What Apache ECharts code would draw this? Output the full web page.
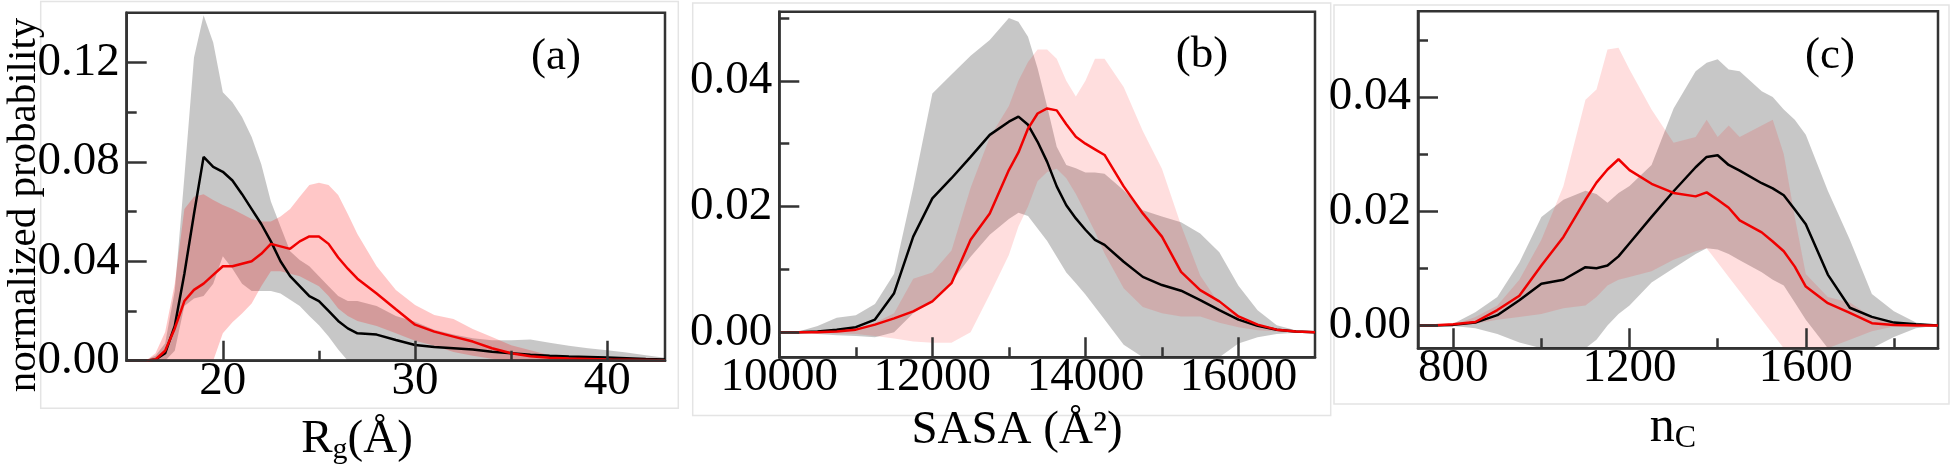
<!DOCTYPE html>
<html><head><meta charset="utf-8">
<script src="https://cdn.jsdelivr.net/npm/echarts@6.0.0/dist/echarts.min.js"></script>
<style>html,body{margin:0;padding:0;background:#fff}#c{width:1950px;height:468px}</style>
</head><body><div id="c"></div><script>
// ---------- Panel (a): Rg ----------
const A_x      = [15,16,16.5,17,17.5,18,18.5,19,19.5,20,20.5,21,21.5,22,22.5,23,23.5,24,24.5,25,25.5,26,26.5,27,28,29,30,31,32,33,34,35,36,37,38,39,40,41,42,43];
const A_black  = [0,0,0.0005,0.003,0.014,0.035,0.059,0.082,0.078,0.076,0.0725,0.067,0.061,0.055,0.048,0.040,0.034,0.030,0.026,0.024,0.020,0.016,0.013,0.011,0.0105,0.0083,0.0063,0.0055,0.005,0.0045,0.0036,0.003,0.0024,0.002,0.0017,0.0015,0.0013,0.001,0.0007,0.0005];
const A_red    = [0,0,0.0005,0.004,0.013,0.024,0.0285,0.031,0.0345,0.038,0.038,0.039,0.040,0.043,0.047,0.046,0.045,0.048,0.050,0.050,0.047,0.0415,0.037,0.033,0.027,0.0207,0.0145,0.0117,0.0097,0.0077,0.005,0.003,0.0018,0.0012,0.0009,0.0007,0.0005,0.0004,0.0003,0.0002];
const A_grayHi = [0,0.0003,0.002,0.007,0.028,0.074,0.122,0.139,0.128,0.108,0.104,0.098,0.090,0.079,0.064,0.054,0.044,0.0405,0.038,0.034,0.030,0.026,0.024,0.024,0.022,0.018,0.0157,0.0125,0.0105,0.009,0.0082,0.0082,0.0085,0.0072,0.006,0.005,0.0042,0.0033,0.0022,0.0012];
const A_grayLo = [0,0,0,0,0.004,0.022,0.025,0.026,0.031,0.042,0.037,0.031,0.028,0.028,0.028,0.027,0.0245,0.022,0.018,0.0143,0.0097,0.0045,0,-0.002,-0.001,-0.0015,-0.003,-0.002,-0.0005,0,-0.001,-0.002,-0.004,-0.003,-0.002,-0.002,-0.0016,-0.0013,-0.0008,-0.0002];
const A_pinkHi = [0,0,0.003,0.0115,0.031,0.061,0.066,0.067,0.0646,0.0626,0.061,0.059,0.057,0.056,0.056,0.058,0.061,0.066,0.0707,0.0716,0.0707,0.0667,0.059,0.051,0.038,0.0284,0.0224,0.0184,0.0168,0.0128,0.0095,0.0062,0.0042,0.0022,0.0012,0.0008,0.0006,0.0004,0.0003,0.0002];
const A_pinkLo = [0,0,-0.002,-0.004,-0.005,-0.011,-0.009,-0.005,0,0.011,0.0155,0.019,0.023,0.030,0.036,0.036,0.035,0.034,0.032,0.030,0.026,0.021,0.018,0.016,0.014,0.011,0.008,0.006,0.0035,0.002,0.0008,0,-0.0005,0,0,0,0,0,0,0];
const A_xTicks = [20,30,40], A_xMinor = [25,35];
const A_yTicks = [0,0.04,0.08,0.12], A_yMinor = [0.02,0.06,0.10];

// ---------- Panel (b): SASA ----------
const B_x      = [10000,10250,10500,10750,11000,11250,11500,11750,12000,12250,12500,12750,13000,13125,13250,13375,13500,13625,13750,13875,14000,14125,14250,14500,14750,15000,15250,15500,15750,16000,16250,16500,16750,17000];
const B_black  = [0,0,0.0001,0.0004,0.0008,0.002,0.0062,0.0152,0.0213,0.0245,0.0279,0.0314,0.0335,0.0343,0.033,0.0303,0.0271,0.0232,0.0202,0.0181,0.0163,0.0147,0.0139,0.0112,0.0088,0.0075,0.0066,0.0051,0.0035,0.002,0.001,0.0004,0.0001,0];
const B_red    = [0,0,0,0.0001,0.0004,0.0012,0.0022,0.0033,0.0049,0.0078,0.0147,0.0189,0.0258,0.0286,0.0324,0.0348,0.0356,0.0353,0.0331,0.0311,0.030,0.0291,0.0282,0.0232,0.0189,0.0152,0.0096,0.0067,0.0049,0.0025,0.0012,0.0004,0.0001,0];
const B_grayHi = [0,0.0001,0.001,0.0023,0.0027,0.0045,0.0093,0.023,0.038,0.041,0.044,0.0465,0.050,0.0494,0.047,0.042,0.0359,0.0295,0.0266,0.0261,0.0254,0.0254,0.0252,0.0226,0.0194,0.0184,0.0175,0.0157,0.0127,0.0074,0.0035,0.0011,0.0003,0];
const B_grayLo = [0,-0.0001,-0.0003,-0.0005,-0.0006,-0.0008,0,0.003,0.005,0.008,0.012,0.0155,0.018,0.019,0.0185,0.0165,0.0145,0.012,0.0095,0.0078,0.006,0.004,0.002,-0.002,-0.004,-0.006,-0.007,-0.006,-0.004,-0.0018,-0.0008,-0.0003,-0.0001,0];
const B_pinkHi = [0,0,0.0001,0.0002,0.0005,0.0015,0.003,0.0085,0.0095,0.013,0.023,0.031,0.036,0.040,0.043,0.045,0.045,0.0435,0.040,0.0375,0.040,0.0435,0.0435,0.039,0.032,0.026,0.017,0.009,0.0045,0.0025,0.0012,0.0006,0.0002,0];
const B_pinkLo = [0,0,-0.0001,-0.0002,-0.0003,-0.0006,-0.001,-0.0015,-0.0017,-0.0017,0,0.006,0.0123,0.0168,0.020,0.024,0.0255,0.026,0.0245,0.022,0.019,0.016,0.0125,0.007,0.004,0.003,0.0025,0.0025,0.0015,0.0008,0.0003,0.0001,0,0];
const B_xTicks = [10000,12000,14000,16000], B_xMinor = [11000,13000,15000];
const B_yTicks = [0,0.02,0.04], B_yMinor = [0.01,0.03,0.05];

// ---------- Panel (c): nC ----------
const C_x      = [720,750,800,850,900,950,1000,1050,1100,1125,1150,1175,1200,1250,1300,1350,1375,1400,1425,1450,1500,1525,1550,1575,1600,1650,1700,1750,1800,1850,1900];
const C_black  = [0,0,0.0001,0.0005,0.0018,0.0044,0.0073,0.008,0.0102,0.010,0.0105,0.0121,0.0144,0.019,0.0235,0.0277,0.0295,0.0298,0.0281,0.0271,0.0249,0.024,0.0228,0.0203,0.0177,0.0089,0.0031,0.0015,0.0005,0.0002,0];
const C_red    = [0,0,0.0002,0.0006,0.0027,0.0052,0.0105,0.0155,0.022,0.025,0.0273,0.0291,0.0272,0.0248,0.0232,0.0226,0.0233,0.022,0.0206,0.0184,0.0163,0.0147,0.013,0.0103,0.0068,0.0039,0.0022,0.0004,0.0001,0,0];
const C_grayHi = [0,0,0.0003,0.0023,0.005,0.011,0.019,0.022,0.0236,0.023,0.0215,0.0232,0.0244,0.0281,0.038,0.0445,0.046,0.0466,0.0448,0.0445,0.041,0.040,0.0378,0.036,0.0334,0.0236,0.015,0.0055,0.0025,0.0005,0];
const C_grayLo = [0,0,-0.0001,-0.0005,-0.0015,-0.003,-0.005,-0.006,-0.005,-0.0025,0,0.002,0.0035,0.0075,0.010,0.0125,0.0135,0.0133,0.0125,0.0114,0.0093,0.008,0.007,0.004,0.001,-0.006,-0.009,-0.006,-0.002,-0.0005,0];
const C_pinkHi = [0,0,0.0001,0.0015,0.0035,0.008,0.015,0.0244,0.0395,0.0413,0.0483,0.0486,0.0448,0.0378,0.032,0.033,0.036,0.033,0.035,0.033,0.035,0.036,0.030,0.019,0.009,0.005,0.004,0.0015,0.0004,0.0001,0];
const C_pinkLo = [0,0,0,0.0003,0.001,0.0015,0.002,0.003,0.0035,0.005,0.007,0.008,0.0085,0.0095,0.0115,0.013,0.0135,0.011,0.0085,0.006,0.001,-0.0015,-0.0045,-0.006,-0.0075,-0.0045,-0.0025,-0.001,-0.0002,0,0];
const C_xTicks = [800,1200,1600], C_xMinor = [1000,1400,1800];
const C_yTicks = [0,0.02,0.04], C_yMinor = [0.01,0.03,0.05];

// ---------- styling ----------
const FONT = 'Liberation Serif';
const AX = '#333';
const GRAY = 'rgba(0,0,0,0.22)';
const PINK_A = 'rgba(255,0,0,0.22)';
const PINK_BC = 'rgba(255,0,0,0.13)';
const TICK_FS = 47;

const grids = [
  {left:126.7, top:12.7, width:538.3, height:348},
  {left:779.3, top:11.7, width:535.7, height:345.6},
  {left:1418,  top:11.3, width:520,   height:337}
].map(g => Object.assign({show:true, borderColor:AX, borderWidth:2.5, backgroundColor:'transparent', containLabel:false}, g));

function xAxisPair(gi, min, max, ticks, minor) {
  return [
    {type:'value', gridIndex:gi, min, max, position:'bottom', z:10,
     axisLine:{show:true, onZero:false, lineStyle:{color:AX, width:2.5}},
     axisTick:{show:true, inside:true, length:20, customValues:ticks, lineStyle:{color:AX, width:2.5}},
     axisLabel:{show:true, customValues:ticks, color:'#000', fontFamily:FONT, fontSize:TICK_FS, margin:-3, formatter:v=>String(v)},
     splitLine:{show:false}},
    {type:'value', gridIndex:gi, min, max, position:'bottom', z:10,
     axisLine:{show:false, onZero:false},
     axisTick:{show:true, inside:true, length:10, customValues:minor, lineStyle:{color:AX, width:2.5}},
     axisLabel:{show:false}, splitLine:{show:false}}
  ];
}
function yAxisPair(gi, min, max, ticks, minor) {
  return [
    {type:'value', gridIndex:gi, min, max, position:'left', z:10,
     axisLine:{show:true, onZero:false, lineStyle:{color:AX, width:2.5}},
     axisTick:{show:true, inside:true, length:20, customValues:ticks, lineStyle:{color:AX, width:2.5}},
     axisLabel:{show:true, customValues:ticks, color:'#000', fontFamily:FONT, fontSize:TICK_FS, margin:7, formatter:v=>v.toFixed(2)},
     splitLine:{show:false}},
    {type:'value', gridIndex:gi, min, max, position:'left', z:10,
     axisLine:{show:false, onZero:false},
     axisTick:{show:true, inside:true, length:10, customValues:minor, lineStyle:{color:AX, width:2.5}},
     axisLabel:{show:false}, splitLine:{show:false}}
  ];
}

function band(gi, xs, lo, hi, color) {
  return {type:'custom', coordinateSystem:'cartesian2d', xAxisIndex:2*gi, yAxisIndex:2*gi, z:1, silent:true,
    data: xs.map((x,i)=>[x, lo[i], hi[i]]),
    renderItem: function(params, api) {
      if (params.dataIndexInside !== 0) return null;
      const cs = params.coordSys;
      const pts = [];
      for (let i=0;i<xs.length;i++) pts.push(api.coord([xs[i], hi[i]]));
      for (let i=xs.length-1;i>=0;i--) pts.push(api.coord([xs[i], lo[i]]));
      pts.forEach(p => {
        p[0] = Math.min(Math.max(p[0], cs.x), cs.x + cs.width);
        p[1] = Math.min(Math.max(p[1], cs.y), cs.y + cs.height);
      });
      return {type:'polygon', shape:{points:pts}, style:{fill:color}};
    }};
}
function line(gi, xs, ys, color) {
  return {type:'line', xAxisIndex:2*gi, yAxisIndex:2*gi, z:3, silent:true,
    data: xs.map((x,i)=>[x, ys[i]]), showSymbol:false, symbol:'none',
    lineStyle:{color, width:2.5}};
}

const txt = (x, y, text, size, extra) => ({type:'text', x, y, z:20, silent:true,
  style: Object.assign({text, fontFamily:FONT, fontSize:size, fill:'#000', textAlign:'center', textVerticalAlign:'middle', verticalAlign:'middle'}, extra||{})});
const frame = (x1, y1, x2, y2) => ({type:'rect', z:-1, silent:true, shape:{x:x1, y:y1, width:x2-x1, height:y2-y1}, style:{fill:'none', stroke:'#e4e4e4', lineWidth:1.5}});

const option = {
  animation:false,
  backgroundColor:'#fff',
  grid: grids,
  xAxis: [].concat(
    xAxisPair(0, 15, 43, A_xTicks, A_xMinor),
    xAxisPair(1, 10000, 17000, B_xTicks, B_xMinor),
    xAxisPair(2, 720, 1900, C_xTicks, C_xMinor)),
  yAxis: [].concat(
    yAxisPair(0, 0, 0.14, A_yTicks, A_yMinor),
    yAxisPair(1, -0.004, 0.051, B_yTicks, B_yMinor),
    yAxisPair(2, -0.004, 0.055, C_yTicks, C_yMinor)),
  series: [
    band(0, A_x, A_grayLo, A_grayHi, GRAY),
    band(0, A_x, A_pinkLo, A_pinkHi, PINK_A),
    line(0, A_x, A_black, '#000'),
    line(0, A_x, A_red, '#f00000'),
    band(1, B_x, B_grayLo, B_grayHi, GRAY),
    band(1, B_x, B_pinkLo, B_pinkHi, PINK_BC),
    line(1, B_x, B_black, '#000'),
    line(1, B_x, B_red, '#f00000'),
    band(2, C_x, C_grayLo, C_grayHi, GRAY),
    band(2, C_x, C_pinkLo, C_pinkHi, PINK_BC),
    line(2, C_x, C_black, '#000'),
    line(2, C_x, C_red, '#f00000')
  ],
  graphic: [
    frame(40.7, 1.5, 678.3, 408.3),
    frame(692.7, 3, 1330.7, 415.5),
    frame(1334, 5, 1949, 404),
    Object.assign(txt(24, 205, 'normalized probability', 41), {rotation: Math.PI/2}),
    txt(357, 440, '{m|R}{s|g}{m|(Å)}', 47, {rich:{m:{fontFamily:FONT, fontSize:47, lineHeight:50}, s:{fontFamily:FONT, fontSize:30, lineHeight:28, verticalAlign:'bottom'}}}),
    txt(1017, 431, 'SASA (Å²)', 47),
    txt(1673, 428, '{m|n}{s|C}', 50, {rich:{m:{fontFamily:FONT, fontSize:50, lineHeight:54}, s:{fontFamily:FONT, fontSize:32, lineHeight:28, verticalAlign:'bottom'}}}),
    txt(556, 57, '(a)', 45),
    txt(1202, 55, '(b)', 45),
    txt(1830, 56, '(c)', 45)
  ]
};
echarts.init(document.getElementById('c'), null, {renderer:'canvas'}).setOption(option);
</script></body></html>
